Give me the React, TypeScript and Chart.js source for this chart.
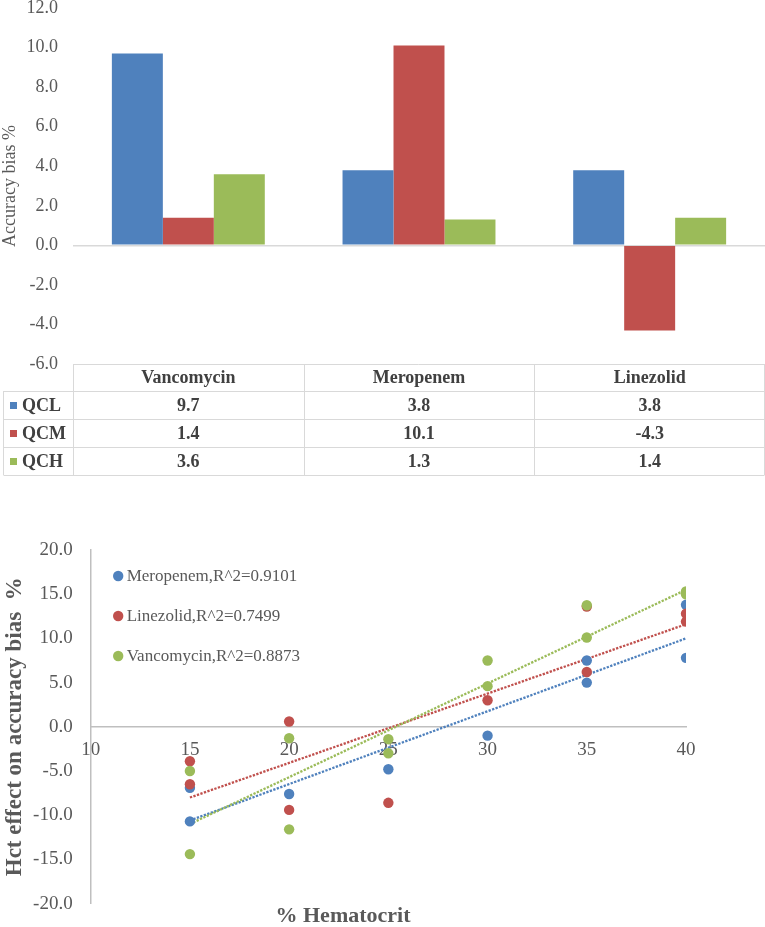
import React, { useEffect, useRef } from "react";
import { Chart, registerables } from "chart.js";

Chart.register(...registerables);

const FONT = "'Liberation Serif', 'Times New Roman', serif";
const TEXT_GRAY = "#595959";
const TABLE_TEXT = "#404040";

// ---- Top chart data (bar + data table) ----
const categories = ["Vancomycin", "Meropenem", "Linezolid"];
const seriesNames = ["QCL", "QCM", "QCH"];
const qclValues = [9.7, 3.8, 3.8];
const qcmValues = [1.4, 10.1, -4.3];
const qchValues = [3.6, 1.3, 1.4];
const barAxisMin = -6;
const barAxisMax = 12;
const barAxisStep = 2;

// ---- Bottom chart data (scatter + trendlines) ----
const scatterLabels = [
  "Meropenem,R^2=0.9101",
  "Linezolid,R^2=0.7499",
  "Vancomycin,R^2=0.8873",
];
const meroHct = [15, 15, 20, 25, 30, 35, 35, 40, 40];
const meroBias = [-6.9, -10.7, -7.6, -4.8, -1.0, 7.5, 5.0, 13.8, 7.8];
const linezHct = [15, 15, 20, 20, 25, 30, 35, 35, 40, 40];
const linezBias = [-3.9, -6.5, 0.6, -9.4, -8.6, 3.0, 13.6, 6.2, 12.8, 11.9];
const vancoHct = [15, 15, 20, 20, 25, 25, 30, 30, 35, 35, 40, 40];
const vancoBias = [-5.0, -14.4, -1.3, -11.6, -1.4, -3.0, 7.5, 4.6, 13.75, 10.1, 15.3, 15.0];
const trendHct = [15, 40];
const meroTrend = [-10.6, 10.0];
const linezTrend = [-8.0, 11.6];
const vancoTrend = [-11.0, 15.5];
const hctMin = 10;
const hctMax = 40;
const hctStep = 5;
const biasMin = -20;
const biasMax = 20;
const biasStep = 5;

const COLORS = ["#4F81BD", "#C0504D", "#9BBB59"];

const toPoints = (xs: number[], ys: number[]) => xs.map((x, i) => ({ x, y: ys[i] }));

const tablePlugin = {
  id: "dataTable",
  afterDraw(chart: any) {
    const ctx = chart.ctx;
    const area = chart.chartArea;
    const xs = chart.scales.x;
    const n = categories.length;
    const colW = (area.right - area.left) / n;
    const top = area.bottom;
    const headerH = 27;
    const rowH = 28;
    const leftEdge = 3.5;
    const bottom = top + headerH + rowH * seriesNames.length;
    const right = area.right - 0.5;
    ctx.save();
    ctx.strokeStyle = "#d9d9d9";
    ctx.lineWidth = 1;
    ctx.beginPath();
    ctx.moveTo(area.left, top + 0.5);
    ctx.lineTo(right, top + 0.5);
    for (let r = 0; r <= seriesNames.length; r++) {
      const y = Math.round(top + headerH + r * rowH) + 0.5;
      ctx.moveTo(leftEdge, y);
      ctx.lineTo(right, y);
    }
    for (let i = 0; i <= n; i++) {
      const x = Math.min(Math.round(area.left + i * colW) + 0.5, right);
      ctx.moveTo(x, top);
      ctx.lineTo(x, bottom);
    }
    ctx.moveTo(leftEdge, top + headerH);
    ctx.lineTo(leftEdge, bottom);
    ctx.stroke();

    ctx.fillStyle = TABLE_TEXT;
    ctx.font = `bold 18px ${FONT}`;
    ctx.textAlign = "center";
    ctx.textBaseline = "middle";
    categories.forEach((c, i) => {
      ctx.fillText(c, xs.getPixelForValue(i), top + headerH / 2 + 1);
    });
    chart.data.datasets.forEach((ds: any, r: number) => {
      const cy = top + headerH + r * rowH + rowH / 2 + 1;
      ctx.fillStyle = ds.backgroundColor;
      ctx.fillRect(10, cy - 4, 7, 7);
      ctx.fillStyle = TABLE_TEXT;
      ctx.textAlign = "left";
      ctx.fillText(ds.label, 22, cy);
      ctx.textAlign = "center";
      ds.data.forEach((v: number, i: number) => {
        ctx.fillText(v.toFixed(1), xs.getPixelForValue(i), cy);
      });
    });
    ctx.restore();
  },
};

const scatterLegendPlugin = {
  id: "scatterLegend",
  afterDraw(chart: any) {
    const ctx = chart.ctx;
    const area = chart.chartArea;
    ctx.save();
    ctx.font = `17px ${FONT}`;
    ctx.textAlign = "left";
    ctx.textBaseline = "middle";
    scatterLabels.forEach((label, i) => {
      const cy = area.top + 26 + i * 40;
      const cx = area.left + 27.5;
      ctx.fillStyle = COLORS[i];
      ctx.beginPath();
      ctx.arc(cx, cy, 5.2, 0, Math.PI * 2);
      ctx.fill();
      ctx.fillStyle = TEXT_GRAY;
      ctx.fillText(label, cx + 8.5, cy + 1);
    });
    ctx.restore();
  },
};

function BarTableChart() {
  const ref = useRef<HTMLCanvasElement>(null);
  useEffect(() => {
    if (!ref.current) return;
    const chart = new Chart(ref.current, {
      type: "bar",
      data: {
        labels: categories,
        datasets: [
          { label: seriesNames[0], data: qclValues, backgroundColor: COLORS[0] },
          { label: seriesNames[1], data: qcmValues, backgroundColor: COLORS[1] },
          { label: seriesNames[2], data: qchValues, backgroundColor: COLORS[2] },
        ],
      },
      options: {
        animation: false,
        responsive: true,
        maintainAspectRatio: false,
        layout: { padding: { top: 28, right: 0, bottom: 124, left: 0 } },
        datasets: { bar: { categoryPercentage: 0.663, barPercentage: 1 } },
        plugins: { legend: { display: false }, tooltip: { enabled: false } },
        scales: {
          x: { display: false },
          y: {
            min: barAxisMin,
            max: barAxisMax,
            ticks: {
              stepSize: barAxisStep,
              color: TEXT_GRAY,
              font: { family: FONT, size: 18 },
              padding: 15,
              callback: (v: any) => Number(v).toFixed(1),
            },
            grid: {
              drawTicks: false,
              lineWidth: 1.5,
              color: (c: any) => (c.tick && c.tick.value === 0 ? "#d9d9d9" : "rgba(0,0,0,0)"),
            },
            border: { display: false },
            title: {
              display: true,
              text: "Accuracy bias %",
              color: TEXT_GRAY,
              font: { family: FONT, size: 18, lineHeight: 1.1 },
              padding: { top: 0, bottom: 0 },
            },
            afterFit: (s: any) => {
              s.width = 73;
            },
          },
        },
      },
      plugins: [tablePlugin],
    } as any);
    return () => chart.destroy();
  }, []);
  return (
    <div style={{ position: "absolute", left: 0, top: -20, width: 765, height: 508 }}>
      <canvas ref={ref} />
    </div>
  );
}

function ScatterChart() {
  const ref = useRef<HTMLCanvasElement>(null);
  useEffect(() => {
    if (!ref.current) return;
    const scatterSets = [
      { hct: meroHct, bias: meroBias },
      { hct: linezHct, bias: linezBias },
      { hct: vancoHct, bias: vancoBias },
    ].map((s, i) => ({
      type: "scatter",
      label: scatterLabels[i],
      data: toPoints(s.hct, s.bias),
      backgroundColor: COLORS[i],
      borderColor: COLORS[i],
      borderWidth: 0,
      pointRadius: 5.2,
      order: 3 - i,
    }));
    const trendSets = [meroTrend, linezTrend, vancoTrend].map((t, i) => ({
      type: "line",
      label: scatterLabels[i] + " trend",
      data: toPoints(trendHct, t),
      borderColor: COLORS[i],
      borderWidth: 2.3,
      borderDash: [2.3, 1.4],
      pointRadius: 0,
      fill: false,
      order: 10 - i,
    }));
    const chart = new Chart(ref.current, {
      type: "scatter",
      data: { datasets: [...scatterSets, ...trendSets] },
      options: {
        animation: false,
        responsive: true,
        maintainAspectRatio: false,
        layout: { padding: { top: 48, right: 79, bottom: 0, left: 0 } },
        plugins: {
          legend: { display: false },
          tooltip: { enabled: false },
          title: {
            display: true,
            position: "bottom",
            text: "% Hematocrit",
            color: TEXT_GRAY,
            font: { family: FONT, size: 22, weight: "bold", lineHeight: 1.2 },
            padding: { top: 0, bottom: 12 },
          },
        },
        scales: {
          x: {
            type: "linear",
            position: { y: 0 },
            min: hctMin,
            max: hctMax,
            ticks: {
              stepSize: hctStep,
              color: TEXT_GRAY,
              font: { family: FONT, size: 19 },
              padding: 12,
            },
            grid: { display: false, drawTicks: false },
            border: { color: "#bfbfbf", width: 1.5 },
          },
          y: {
            type: "linear",
            min: biasMin,
            max: biasMax,
            ticks: {
              stepSize: biasStep,
              color: TEXT_GRAY,
              font: { family: FONT, size: 19 },
              padding: 18,
              callback: (v: any) => Number(v).toFixed(1),
            },
            grid: { display: false, drawTicks: false },
            border: { color: "#bfbfbf", width: 1.5 },
            title: {
              display: true,
              text: "Hct effect on accuracy bias  %",
              color: TEXT_GRAY,
              font: { family: FONT, size: 23, weight: "bold", lineHeight: 1.2 },
              padding: { top: 1, bottom: 0 },
            },
            afterFit: (s: any) => {
              s.width = 90.7;
            },
          },
        },
      },
      plugins: [scatterLegendPlugin],
    } as any);
    return () => chart.destroy();
  }, []);
  return (
    <div style={{ position: "absolute", left: 0, top: 502, width: 765, height: 440 }}>
      <canvas ref={ref} />
    </div>
  );
}

export default function App() {
  return (
    <div
      style={{
        position: "absolute",
        left: 0,
        top: 0,
        width: 765,
        height: 927,
        overflow: "hidden",
        background: "#ffffff",
      }}
    >
      <BarTableChart />
      <ScatterChart />
    </div>
  );
}
